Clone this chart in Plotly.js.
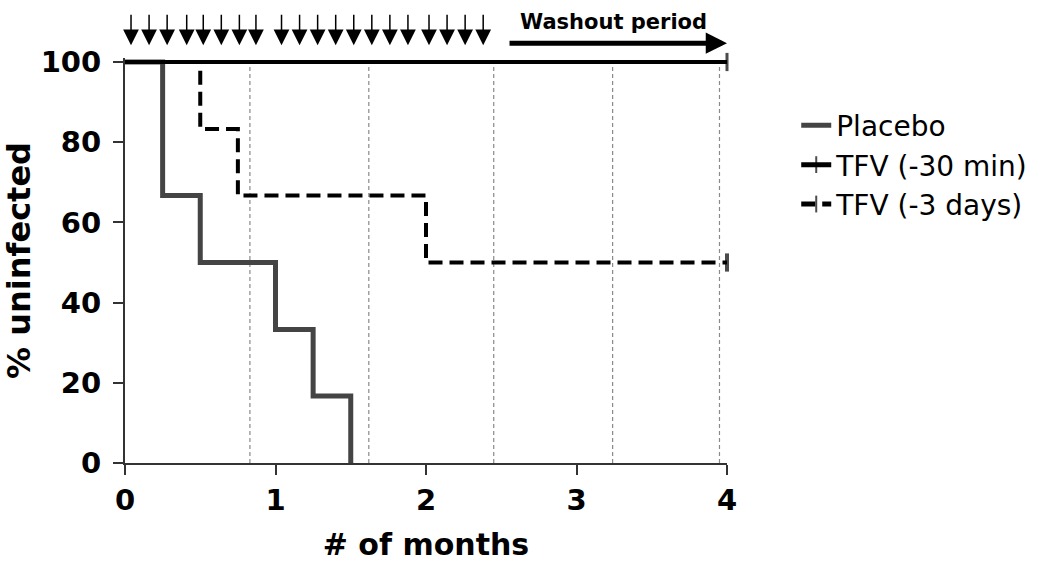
<!DOCTYPE html>
<html>
<head>
<meta charset="utf-8">
<script src="https://cdn.plot.ly/plotly-3.0.1.min.js"></script>
<style>html,body{margin:0;padding:0;background:#fff;}#chart{width:1050px;height:572px;}</style>
</head>
<body>
<div id="chart"></div>
<script>
// ---- data ----
var seriesNames = ["Placebo", "TFV (-30 min)", "TFV (-3 days)"];
var placeboX = [0, 0.25, 0.5, 1.0, 1.25, 1.5];
var placeboY = [100, 66.7, 50, 33.3, 16.7, 0];
var tfv30X = [0, 4];
var tfv30Y = [100, 100];
var tfv3dX = [0, 0.5, 0.75, 2.0, 4.0];
var tfv3dY = [100, 83.3, 66.7, 50, 50];
var doseTimes = [0.04, 0.16, 0.28, 0.41, 0.52, 0.64, 0.76, 0.87,
                 1.04, 1.16, 1.28, 1.40, 1.52, 1.64, 1.76, 1.88, 2.02, 2.14, 2.26, 2.38];
var washoutStart = 2.545, washoutEnd = 4.0;
var washoutLabel = "Washout period";
var refLines = [0.83, 1.62, 2.45, 3.24, 3.95];
var xTicks = [0, 1, 2, 3, 4];
var yTicks = [0, 20, 40, 60, 80, 100];

var FONT = "DejaVu Sans, Arial, sans-serif";

function censorSizes(n, last) {
  var s = [];
  for (var i = 0; i < n; i++) s.push(i === n - 1 && last ? 13 : 0);
  return s;
}

var traces = [
  {x: placeboX, y: placeboY, name: seriesNames[0], mode: "lines", line: {shape: "hv", color: "#444444", width: 5}},
  {x: tfv30X, y: tfv30Y, name: seriesNames[1], mode: "lines+markers", line: {shape: "hv", color: "#000000", width: 4},
   marker: {symbol: "line-ns", size: censorSizes(tfv30X.length, true), line: {color: "#000000", width: 3}}, cliponaxis: false},
  {x: tfv3dX, y: tfv3dY, name: seriesNames[2], mode: "lines+markers", line: {shape: "hv", color: "#000000", width: 4, dash: "14px,7px"},
   marker: {symbol: "line-ns", size: censorSizes(tfv3dX.length, true), line: {color: "#000000", width: 4}}, cliponaxis: false}
];

var shapes = refLines.map(function (v) {
  return {type: "line", xref: "x", yref: "y", x0: v, x1: v, y0: 0, y1: 100, layer: "below",
          line: {color: "#8a8a8a", width: 1.2, dash: "4px,3px"}};
});

// paper-y helper: plot area spans 0..101 in y units
var yUnitsPerPaper = 101;
function yPaper(v) { return v / yUnitsPerPaper; }

var annotations = doseTimes.map(function (t) {
  return {x: t, y: yPaper(104.2), xref: "x", yref: "paper", text: "", showarrow: true, ax: 0, ay: -32,
          arrowhead: 2, arrowsize: 2.1, arrowwidth: 1.5, arrowcolor: "#000", standoff: 0};
});
annotations.push({x: washoutEnd, y: yPaper(104.7), xref: "x", yref: "paper", axref: "x", ayref: "paper",
  ax: washoutStart, ay: yPaper(104.7),
  text: "", showarrow: true, arrowhead: 2, arrowsize: 0.85, arrowwidth: 5, arrowcolor: "#000", standoff: 0});
annotations.push({x: (washoutStart + washoutEnd) / 2 - 0.03, y: yPaper(110), xref: "x", yref: "paper",
  xanchor: "center", yanchor: "middle", text: "<b>" + washoutLabel + "</b>",
  showarrow: false, font: {family: FONT, size: 21, color: "#000"}});

var layout = {
  width: 1050, height: 572,
  margin: {l: 125, r: 323, t: 58, b: 109},
  paper_bgcolor: "#fff", plot_bgcolor: "#fff",
  showlegend: true,
  legend: {x: 1.115, y: 0.895, xanchor: "left", yanchor: "top", itemsizing: "constant",
           font: {family: FONT, size: 28, color: "#000"}, bgcolor: "rgba(0,0,0,0)"},
  xaxis: {range: [0, 4], tickvals: xTicks, showgrid: false, zeroline: false, showline: true, linecolor: "#333", linewidth: 2,
          ticks: "outside", ticklen: 10, tickwidth: 2, tickcolor: "#333",
          tickfont: {family: FONT, size: 29, color: "#000", weight: "bold"},
          title: {text: "<b># of months</b>", font: {family: FONT, size: 30, color: "#000"}, standoff: 18}},
  yaxis: {range: [0, 101], tickvals: yTicks, showgrid: false, zeroline: false, showline: true, linecolor: "#333", linewidth: 2,
          ticks: "outside", ticklen: 10, tickwidth: 2, tickcolor: "#333", ticklabelstandoff: 6,
          tickfont: {family: FONT, size: 29, color: "#000", weight: "bold"},
          title: {text: "<b>% uninfected</b>", font: {family: FONT, size: 32, color: "#000"}, standoff: 2}},
  shapes: shapes,
  annotations: annotations
};

Plotly.newPlot("chart", traces, layout, {staticPlot: true});
</script>
</body>
</html>
